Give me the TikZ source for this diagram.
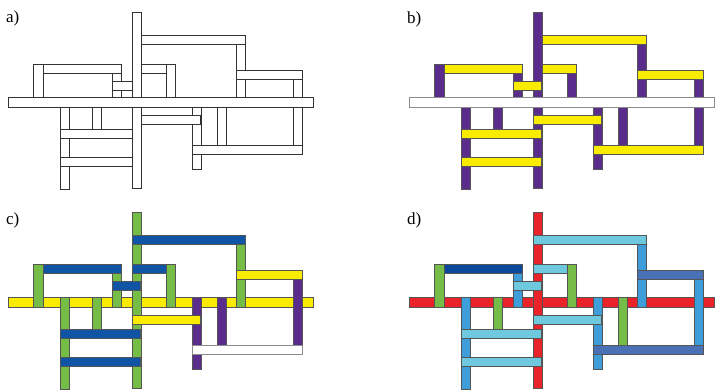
\documentclass[tikz,border=0pt]{standalone}
\usepackage{fontspec}
\setmainfont{Liberation Serif}
\usepackage{tikz}

\definecolor{rpurple}{RGB}{90,44,140}
\definecolor{ryellow}{RGB}{250,236,0}
\definecolor{rgreen}{RGB}{118,189,72}
\definecolor{rblue}{RGB}{16,84,165}
\definecolor{rred}{RGB}{234,35,42}
\definecolor{rlight}{RGB}{110,200,222}
\definecolor{rmid}{RGB}{62,158,218}
\definecolor{rsteel}{RGB}{74,112,182}
\definecolor{rnavy}{RGB}{10,72,155}
\definecolor{redge}{RGB}{85,85,85}

\tikzset{
  rod/.style={draw=redge, line width=0.5pt},
  plainrod/.style={draw=black!80, line width=0.75pt, fill=white},
  panellabel/.style={anchor=base west, inner sep=0pt, font=\fontsize{17}{19}\selectfont}
}

% geometry of the twenty rods (units: x = 1pt right, y = 1pt down)
\newcommand\rodM[1]{\path[#1] (8,97) rectangle (313,107);}
\newcommand\rodT[1]{\path[#1] (132,12) rectangle (141,188);}
\newcommand\rodHa[1]{\path[#1] (132,35.5) rectangle (245.5,44.5);}
\newcommand\rodVa[1]{\path[#1] (236.5,40) rectangle (245.5,107);}
\newcommand\rodHb[1]{\path[#1] (236.5,70.5) rectangle (302.5,79.5);}
\newcommand\rodVb[1]{\path[#1] (293,75) rectangle (302,150);}
\newcommand\rodVL[1]{\path[#1] (33.5,64) rectangle (43,107);}
\newcommand\rodHL[1]{\path[#1] (43,64.5) rectangle (121.5,73.5);}
\newcommand\rodVc[1]{\path[#1] (112,70) rectangle (121,107);}
\newcommand\rodS[1]{\path[#1] (112,81.5) rectangle (140.5,90);}
\newcommand\rodHc[1]{\path[#1] (132,64.5) rectangle (175,73.5);}
\newcommand\rodVd[1]{\path[#1] (166,64.5) rectangle (175,107);}
\newcommand\rodBa[1]{\path[#1] (60.5,97) rectangle (69.5,189.5);}
\newcommand\rodBb[1]{\path[#1] (92,97) rectangle (101,131);}
\newcommand\rodLa[1]{\path[#1] (60.5,129.5) rectangle (140.5,138.5);}
\newcommand\rodLb[1]{\path[#1] (60.5,157.5) rectangle (140.5,166.5);}
\newcommand\rodLc[1]{\path[#1] (132,115.5) rectangle (200.5,124.5);}
\newcommand\rodBc[1]{\path[#1] (192,97) rectangle (201,169.5);}
\newcommand\rodBd[1]{\path[#1] (217.5,97) rectangle (226.5,147);}
\newcommand\rodLd[1]{\path[#1] (192,145) rectangle (302,154);}

\begin{document}
\begin{tikzpicture}[x=1pt,y=-1pt]
\useasboundingbox (0,0) rectangle (715,390);

% a) outline drawing
\begin{scope}
  \rodVL{plainrod}\rodVa{plainrod}\rodVb{plainrod}\rodVc{plainrod}
  \rodBa{plainrod}\rodBb{plainrod}\rodBc{plainrod}\rodBd{plainrod}
  \rodHa{plainrod}\rodHb{plainrod}\rodHL{plainrod}\rodS{plainrod}
  \rodHc{plainrod}\rodLa{plainrod}\rodLb{plainrod}\rodLc{plainrod}
  \rodLd{plainrod}\rodVd{plainrod}\rodT{plainrod}\rodM{plainrod}
  \node[panellabel] (la) at (6,23) {a)};
\end{scope}

% b) verticals and horizontals
\begin{scope}[shift={(401,0)}]
  \rodVL{rod,fill=rpurple}\rodVa{rod,fill=rpurple}\rodVb{rod,fill=rpurple}
  \rodVc{rod,fill=rpurple}\rodVd{rod,fill=rpurple}
  \rodBa{rod,fill=rpurple}\rodBb{rod,fill=rpurple}\rodBc{rod,fill=rpurple}
  \rodBd{rod,fill=rpurple}
  \rodHa{rod,fill=ryellow}\rodHc{rod,fill=ryellow}
  \rodT{rod,fill=rpurple}
  \rodHb{rod,fill=ryellow}\rodHL{rod,fill=ryellow}\rodS{rod,fill=ryellow}
  \rodLa{rod,fill=ryellow}\rodLb{rod,fill=ryellow}\rodLc{rod,fill=ryellow}
  \rodLd{rod,fill=ryellow}
  \rodM{rod,draw=black!45,fill=white}
  \node[panellabel] (lb) at (6,24) {b)};
\end{scope}

% c) four colour classes
\begin{scope}[shift={(0,200)}]
  \rodM{rod,fill=ryellow}
  \rodT{rod,fill=rgreen}\rodVa{rod,fill=rgreen}\rodVb{rod,fill=rpurple}
  \rodVL{rod,fill=rgreen}\rodVc{rod,fill=rgreen}
  \rodBa{rod,fill=rgreen}\rodBb{rod,fill=rgreen}\rodBc{rod,fill=rpurple}
  \rodBd{rod,fill=rpurple}
  \rodHc{rod,fill=rblue}\rodVd{rod,fill=rgreen}
  \rodHa{rod,fill=rblue}\rodHb{rod,fill=ryellow}\rodHL{rod,fill=rblue}
  \rodS{rod,fill=rblue}\rodLa{rod,fill=rblue}\rodLb{rod,fill=rblue}
  \rodLc{rod,fill=ryellow}\rodLd{rod,draw=black!45,fill=white}
  \node[panellabel] (lc) at (6,25) {c)};
\end{scope}

% d) refined colouring
\begin{scope}[shift={(401,200)}]
  \rodM{rod,fill=rred}
  \rodT{rod,fill=rred}\rodVa{rod,fill=rmid}\rodVb{rod,fill=rmid}
  \rodVL{rod,fill=rgreen}\rodVc{rod,fill=rmid}
  \rodBa{rod,fill=rmid}\rodBb{rod,fill=rgreen}\rodBc{rod,fill=rmid}
  \rodBd{rod,fill=rgreen}
  \rodHc{rod,fill=rlight}\rodVd{rod,fill=rgreen}
  \rodHa{rod,fill=rlight}\rodHb{rod,fill=rsteel}\rodHL{rod,fill=rnavy}
  \rodS{rod,fill=rlight}\rodLa{rod,fill=rlight}\rodLb{rod,fill=rlight}
  \rodLc{rod,fill=rlight}\rodLd{rod,fill=rsteel}
  \node[panellabel] (ld) at (6,25) {d)};
\end{scope}
\end{tikzpicture}
\end{document}
